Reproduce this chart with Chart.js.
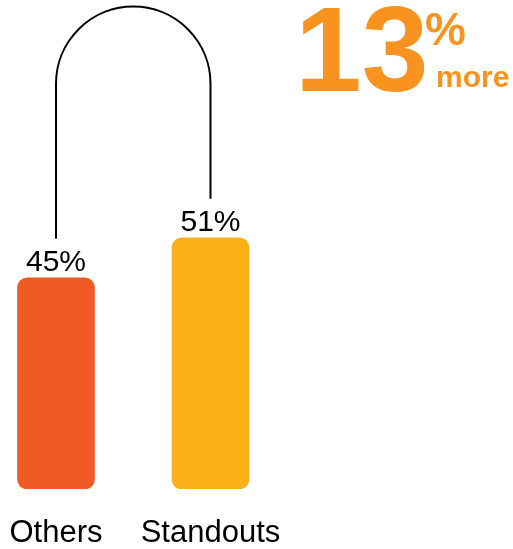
<!DOCTYPE html>
<html lang="en">
  <head>
    <meta charset="UTF-8" />
    <title>Standouts vs Others</title>
    <script src="https://cdn.jsdelivr.net/npm/chart.js"></script>
    <style>
      html, body { margin: 0; padding: 0; background: #fff; }
    </style>
  </head>
  <body>
    <canvas id="barChart" width="513" height="549"></canvas>
    <script>
      const categories = ["Others", "Standouts"];
      const values = [45, 51];
      const barColors = ["#F15A24", "#FBB017"];

      const FONT = "'Liberation Sans', Arial, sans-serif";
      const ORANGE = "#F7931E";
      const Y_MIN = 13.3;
      const Y_MAX = 86.7;

      // value labels, the arc connecting them and the "13% more" headline
      const annotations = {
        id: "annotations",
        afterDatasetsDraw(chart) {
          const ctx = chart.ctx;
          const bars = chart.getDatasetMeta(0).data;
          ctx.save();

          ctx.font = "30px " + FONT;
          ctx.fillStyle = "#000";
          ctx.textAlign = "center";
          ctx.textBaseline = "alphabetic";
          bars.forEach((bar, i) => ctx.fillText(values[i] + "%", bar.x, bar.y - 7));

          const a = bars[0], b = bars[1];
          const r = (b.x - a.x) / 2;
          const cy = Math.min(a.y, b.y) - 154;
          ctx.beginPath();
          ctx.moveTo(a.x, a.y - 39);
          ctx.lineTo(a.x, cy);
          ctx.arc(a.x + r, cy, r, Math.PI, 0);
          ctx.lineTo(b.x, b.y - 39);
          ctx.lineWidth = 2;
          ctx.strokeStyle = "#000";
          ctx.stroke();

          const more = Math.round((values[1] / values[0] - 1) * 100);
          ctx.fillStyle = ORANGE;
          ctx.textAlign = "left";
          ctx.font = "bold 120px " + FONT;
          ctx.fillText(String(more), 295, 91);
          ctx.font = "bold 46px " + FONT;
          ctx.fillText("%", 425, 45);
          ctx.font = "bold 30px " + FONT;
          ctx.fillText("more", 436, 87);

          ctx.restore();
        },
      };

      new Chart(document.getElementById("barChart"), {
        type: "bar",
        data: {
          datasets: [
            {
              data: values.map((v, i) => ({ x: i, y: v })),
              base: Y_MIN,
              backgroundColor: barColors,
              borderRadius: 10,
              borderSkipped: false,
              barThickness: 77,
            },
          ],
        },
        options: {
          responsive: false,
          animation: false,
          layout: { padding: 0 },
          plugins: {
            legend: { display: false },
            tooltip: { enabled: false },
          },
          scales: {
            x: {
              type: "linear",
              offset: false,
              min: -0.3625,
              max: 2.958,
              grid: { display: false, drawTicks: false },
              border: { display: false },
              afterBuildTicks: (axis) => {
                axis.ticks = categories.map((c, i) => ({ value: i }));
              },
              afterFit: (axis) => {
                axis.height = 60;
                axis.paddingLeft = 0;
                axis.paddingRight = 0;
              },
              ticks: {
                padding: 26,
                color: "#000",
                font: { family: FONT, size: 31 },
                callback: (v) => categories[v] ?? "",
              },
            },
            y: {
              display: false,
              min: Y_MIN,
              max: Y_MAX,
            },
          },
        },
        plugins: [annotations],
      });
    </script>
  </body>
</html>
